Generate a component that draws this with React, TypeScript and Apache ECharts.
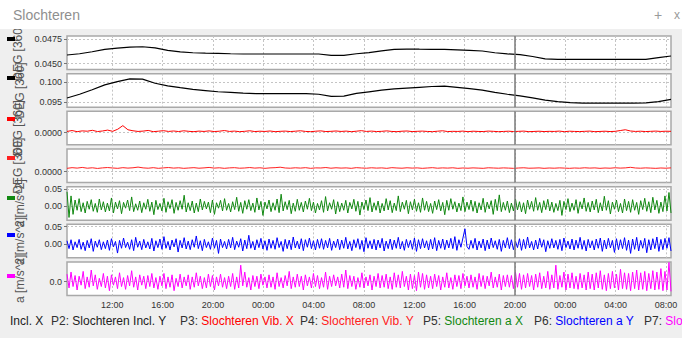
import React, { useEffect, useRef } from 'react';
import * as echarts from 'echarts';

// Time axis (hours from day-1 00:00)
const HOUR_START = 8.4;
const HOUR_END = 56.4;
const TIME_TICKS = [12, 16, 20, 24, 28, 32, 36, 40, 44, 48, 52, 56];
const CURSOR_HOUR = 44;

// P1: Slochteren Incl. X  (hourly)
const inclX = [
  0.04587, 0.04600, 0.04620, 0.04645, 0.04658, 0.04668, 0.04671, 0.04660, 0.04635, 0.04618,
  0.04610, 0.04606, 0.04604, 0.04600, 0.04597, 0.04597, 0.04597, 0.04597, 0.04597, 0.04597,
  0.04597, 0.04584, 0.04584, 0.04600, 0.04612, 0.04630, 0.04645, 0.04648, 0.04646, 0.04645,
  0.04645, 0.04640, 0.04635, 0.04628, 0.04610, 0.04598, 0.04590, 0.04572, 0.04548, 0.04543,
  0.04543, 0.04543, 0.04543, 0.04543, 0.04543, 0.04543, 0.04543, 0.04560, 0.04577,
];

// P2: Slochteren Incl. Y  (hourly)
const inclY = [
  0.09608, 0.09700, 0.09810, 0.09930, 0.10010, 0.10075, 0.10070, 0.09970, 0.09905, 0.09860,
  0.09818, 0.09790, 0.09762, 0.09745, 0.09728, 0.09718, 0.09718, 0.09718, 0.09718, 0.09718,
  0.09700, 0.09650, 0.09655, 0.09720, 0.09760, 0.09800, 0.09830, 0.09850, 0.09870, 0.09890,
  0.09900, 0.09870, 0.09840, 0.09800, 0.09745, 0.09700, 0.09660, 0.09610, 0.09555, 0.09520,
  0.09495, 0.09483, 0.09483, 0.09483, 0.09483, 0.09483, 0.09490, 0.09520, 0.09575,
];

// P3: Slochteren Vib. X
const vibX = [
  0.00010, 0.00018, 0.00008, 0.00015, 0.00012, 0.00020, 0.00009, 0.00014, 0.00022, 0.00011, 0.00030, 0.00062, 0.00025, 0.00016, 0.00010, 0.00013, 0.00019, 0.00008, 0.00012, 0.00017,
  0.00010, 0.00014, 0.00009, 0.00016, 0.00011, 0.00008, 0.00013, 0.00010, 0.00015, 0.00009, 0.00012, 0.00018, 0.00010, 0.00013, 0.00008, 0.00011, 0.00016, 0.00009, 0.00012, 0.00010,
  0.00014, 0.00008, 0.00011, 0.00013, 0.00009, 0.00012, 0.00016, 0.00010, 0.00008, 0.00012, 0.00015, 0.00009, 0.00011, 0.00014, 0.00010, 0.00013, 0.00008, 0.00012, 0.00017, 0.00010,
  0.00013, 0.00009, 0.00011, 0.00015, 0.00010, 0.00008, 0.00012, 0.00014, 0.00009, 0.00011, 0.00013, 0.00010, 0.00008, 0.00012, 0.00016, 0.00009, 0.00011, 0.00010, 0.00013, 0.00008,
  0.00012, 0.00010, 0.00009, 0.00013, 0.00011, 0.00008, 0.00010, 0.00012, 0.00009, 0.00011, 0.00013, 0.00008, 0.00010, 0.00012, 0.00009, 0.00011, 0.00010, 0.00013, 0.00008, 0.00012,
  0.00010, 0.00009, 0.00011, 0.00013, 0.00008, 0.00010, 0.00012, 0.00009, 0.00011, 0.00018, 0.00025, 0.00014, 0.00010, 0.00012, 0.00009, 0.00011, 0.00013, 0.00010, 0.00012, 0.00011,
];

// P4: Slochteren Vib. Y
const vibY = [
  0.00030, 0.00036, 0.00032, 0.00038, 0.00031, 0.00035, 0.00029, 0.00034, 0.00037, 0.00033, 0.00030, 0.00036, 0.00032, 0.00035, 0.00041, 0.00034, 0.00031, 0.00036, 0.00030, 0.00034,
  0.00037, 0.00032, 0.00035, 0.00030, 0.00033, 0.00036, 0.00031, 0.00034, 0.00038, 0.00032, 0.00035, 0.00030, 0.00034, 0.00036, 0.00031, 0.00033, 0.00037, 0.00032, 0.00035, 0.00030,
  0.00034, 0.00036, 0.00040, 0.00033, 0.00031, 0.00035, 0.00032, 0.00036, 0.00030, 0.00034, 0.00033, 0.00037, 0.00031, 0.00035, 0.00032, 0.00034, 0.00030, 0.00036, 0.00033, 0.00031,
  0.00035, 0.00032, 0.00034, 0.00030, 0.00036, 0.00033, 0.00031, 0.00035, 0.00032, 0.00034, 0.00030, 0.00033, 0.00036, 0.00031, 0.00034, 0.00032, 0.00035, 0.00030, 0.00033, 0.00031,
  0.00034, 0.00032, 0.00030, 0.00035, 0.00033, 0.00031, 0.00034, 0.00032, 0.00030, 0.00033, 0.00035, 0.00031, 0.00032, 0.00034, 0.00030, 0.00033, 0.00031, 0.00034, 0.00032, 0.00030,
  0.00033, 0.00031, 0.00035, 0.00032, 0.00034, 0.00030, 0.00033, 0.00031, 0.00035, 0.00032, 0.00034, 0.00039, 0.00033, 0.00031, 0.00034, 0.00032, 0.00030, 0.00033, 0.00031, 0.00034,
];

// P5: Slochteren a X
const accX = [
  0.042, -0.033, 0.030, -0.024, 0.018, -0.012, 0.022, -0.016, 0.010, -0.020, 0.014, -0.009, 0.019, -0.015, 0.008, -0.018, 0.021, -0.011, 0.013, -0.017,
  0.009, -0.014, 0.024, -0.020, 0.012, -0.008, 0.016, -0.022, 0.011, -0.006, 0.018, -0.013, 0.027, -0.016, 0.007, -0.012, 0.015, -0.019, 0.010, -0.009,
  0.020, -0.015, 0.012, -0.025, 0.017, -0.010, 0.008, -0.014, 0.023, -0.018, 0.013, -0.007, 0.019, -0.021, 0.011, -0.012, 0.016, -0.009, 0.032, -0.017,
  0.010, -0.013, 0.015, -0.020, 0.009, -0.016, 0.021, -0.011, 0.014, -0.008, 0.012, -0.019, 0.018, -0.024, 0.010, -0.006, 0.017, -0.014, 0.022, -0.012,
  0.008, -0.017, 0.013, -0.010, 0.026, -0.015, 0.011, -0.021, 0.016, -0.009, 0.019, -0.013, 0.009, -0.018, 0.024, -0.011, 0.014, -0.027, 0.012, -0.008,
  0.018, -0.016, 0.010, -0.012, 0.021, -0.019, 0.035, -0.014, 0.013, -0.010, 0.017, -0.022, 0.009, -0.015, 0.020, -0.012, 0.011, -0.017, 0.015, -0.009,
  0.023, -0.013, 0.012, -0.020, 0.008, -0.011, 0.016, -0.018, 0.028, -0.014, 0.010, -0.009, 0.019, -0.023, 0.013, -0.016, 0.009, -0.012, 0.017, -0.020,
  0.011, -0.008, 0.020, -0.015, 0.014, -0.026, 0.012, -0.010, 0.018, -0.013, 0.025, -0.017, 0.010, -0.012, 0.015, -0.020, 0.008, -0.014, 0.022, -0.011,
  0.016, -0.019, 0.009, -0.013, 0.030, -0.016, 0.012, -0.009, 0.017, -0.022, 0.013, -0.011, 0.020, -0.015, 0.010, -0.018, 0.024, -0.012, 0.014, -0.016,
  0.008, -0.021, 0.015, -0.010, 0.019, -0.014, 0.011, -0.025, 0.017, -0.012, 0.022, -0.009, 0.013, -0.017, 0.009, -0.013, 0.027, -0.016, 0.012, -0.010,
  0.018, -0.015, 0.014, -0.020, 0.010, -0.011, 0.023, -0.018, 0.012, -0.008, 0.016, -0.024, 0.020, -0.013, 0.033, -0.016, 0.011, -0.012, 0.015, -0.019,
  0.009, -0.014, 0.021, -0.011, 0.013, -0.017, 0.010, -0.022, 0.018, -0.009, 0.014, -0.015, 0.025, -0.012, 0.011, -0.019, 0.016, -0.010, 0.020, -0.014,
  0.012, -0.018, 0.008, -0.013, 0.017, -0.027, 0.014, -0.010, 0.022, -0.016, 0.009, -0.012, 0.019, -0.021, 0.013, -0.008, 0.024, -0.015, 0.011, -0.017,
  0.015, -0.011, 0.020, -0.019, 0.010, -0.014, 0.029, -0.012, 0.016, -0.023, 0.012, -0.009, 0.018, -0.016, 0.008, -0.020, 0.021, -0.013, 0.014, -0.018,
  0.019, -0.012, 0.011, -0.024, 0.016, -0.010, 0.023, -0.015, 0.013, -0.019, 0.026, -0.011, 0.017, -0.021, 0.012, -0.016, 0.030, -0.014, 0.040, -0.020,
];

// P6: Slochteren a Y
const accY = [
  0.009, -0.014, 0.012, -0.018, 0.006, -0.011, 0.013, -0.016, 0.005, -0.020, 0.010, -0.012, 0.015, -0.022, 0.008, -0.010, 0.012, -0.017, 0.006, -0.014,
  0.011, -0.019, 0.015, -0.009, 0.007, -0.027, 0.010, -0.013, 0.017, -0.011, 0.005, -0.016, 0.012, -0.020, 0.019, -0.010, 0.008, -0.017, 0.013, -0.012,
  0.006, -0.015, 0.016, -0.021, 0.009, -0.011, 0.014, -0.016, 0.021, -0.013, 0.007, -0.018, 0.011, -0.009, 0.015, -0.024, 0.010, -0.012, 0.018, -0.015,
  0.008, -0.017, 0.012, -0.010, 0.023, -0.014, 0.009, -0.020, 0.013, -0.011, 0.006, -0.016, 0.017, -0.013, 0.010, -0.028, 0.014, -0.011, 0.007, -0.015,
  0.013, -0.012, 0.019, -0.017, 0.008, -0.010, 0.015, -0.021, 0.011, -0.014, 0.025, -0.013, 0.007, -0.018, 0.012, -0.011, 0.016, -0.015, 0.009, -0.019,
  0.014, -0.013, 0.010, -0.016, 0.018, -0.011, 0.007, -0.022, 0.013, -0.014, 0.011, -0.017, 0.020, -0.012, 0.008, -0.015, 0.015, -0.020, 0.012, -0.010,
  0.017, -0.014, 0.009, -0.018, 0.013, -0.013, 0.015, -0.016, 0.010, -0.012, 0.016, -0.019, 0.008, -0.011, 0.014, -0.017, 0.011, -0.013, 0.019, -0.015,
  0.007, -0.020, 0.012, -0.011, 0.015, -0.016, 0.010, -0.023, 0.018, -0.013, 0.009, -0.015, 0.013, -0.018, 0.011, -0.012, 0.016, -0.021, 0.008, -0.014,
  0.014, -0.017, 0.011, -0.013, 0.019, -0.015, 0.007, -0.019, 0.013, -0.011, 0.010, -0.016, 0.017, -0.022, 0.012, -0.014, 0.015, -0.012, 0.009, -0.018,
  0.013, -0.015, 0.018, -0.020, 0.010, -0.013, 0.014, -0.017, 0.011, -0.012, 0.016, -0.014, 0.021, -0.019, 0.012, -0.010, 0.017, 0.044, -0.008, -0.016,
  0.010, -0.013, 0.016, -0.018, 0.008, -0.012, 0.014, -0.020, 0.011, -0.015, 0.017, -0.011, 0.009, -0.016, 0.013, -0.022, 0.010, -0.012, 0.018, -0.014,
  0.012, -0.017, 0.008, -0.011, 0.015, -0.019, 0.013, -0.014, 0.020, -0.012, 0.007, -0.018, 0.011, -0.015, 0.016, -0.010, 0.012, -0.023, 0.009, -0.013,
  0.015, -0.012, 0.010, -0.016, 0.013, -0.020, 0.017, -0.011, 0.008, -0.015, 0.014, -0.018, 0.011, -0.013, 0.019, -0.016, 0.010, -0.021, 0.013, -0.012,
  0.009, -0.018, 0.014, -0.013, 0.017, -0.022, 0.011, -0.015, 0.016, -0.012, 0.010, -0.025, 0.015, -0.017, 0.012, -0.014, 0.018, -0.019, 0.011, -0.028,
  0.014, -0.016, 0.019, -0.021, 0.010, -0.013, 0.016, -0.026, 0.012, -0.018, 0.015, -0.014, 0.020, -0.022, 0.013, -0.017, 0.016, -0.013, 0.018, -0.021,
];

// P7: Slochteren a Z
const accZ = [
  0.055, -0.045, 0.070, -0.035, 0.045, -0.060, 0.040, -0.025, 0.075, -0.050, 0.035, -0.040, 0.085, -0.030, 0.050, -0.055, 0.025, -0.035, 0.060, -0.045,
  0.040, -0.065, 0.050, -0.025, 0.035, -0.050, 0.065, -0.035, 0.030, -0.055, 0.045, -0.030, 0.080, -0.040, 0.035, -0.060, 0.050, -0.025, 0.040, -0.050,
  0.045, -0.035, 0.060, -0.045, 0.030, -0.055, 0.040, -0.030, 0.060, -0.050, 0.035, -0.040, 0.050, -0.065, 0.025, -0.035, 0.055, -0.045, 0.035, -0.030,
  0.050, -0.055, 0.035, -0.040, 0.065, -0.030, 0.040, -0.050, 0.030, -0.045, 0.055, -0.035, 0.045, -0.060, 0.035, -0.030, 0.055, -0.040, 0.030, -0.050,
  0.040, -0.035, 0.060, -0.055, 0.035, -0.045, 0.120, -0.030, 0.070, -0.040, 0.030, -0.060, 0.045, -0.035, 0.040, -0.050, 0.055, -0.025, 0.035, -0.045,
  0.050, -0.040, 0.035, -0.055, 0.065, -0.035, 0.030, -0.045, 0.045, -0.030, 0.075, -0.050, 0.035, -0.040, 0.055, -0.035, 0.040, -0.060, 0.050, -0.030,
  0.035, -0.045, 0.060, -0.035, 0.045, -0.050, 0.030, -0.040, 0.070, -0.055, 0.040, -0.035, 0.050, -0.030, 0.035, -0.045, 0.055, -0.040, 0.085, -0.050,
  0.045, -0.035, 0.040, -0.055, 0.030, -0.040, 0.065, -0.045, 0.035, -0.030, 0.050, -0.060, 0.040, -0.035, 0.060, -0.045, 0.045, -0.040, 0.055, -0.050,
  0.035, -0.055, 0.065, -0.040, 0.050, -0.045, 0.075, -0.035, 0.040, -0.060, 0.055, -0.050, 0.045, -0.065, 0.070, -0.040, 0.060, -0.055, 0.050, -0.045,
  0.040, -0.050, 0.055, -0.035, 0.045, -0.060, 0.035, -0.040, 0.065, -0.045, 0.030, -0.055, 0.050, -0.035, 0.045, -0.050, 0.060, -0.030, 0.040, -0.045,
  0.050, -0.040, 0.035, -0.055, 0.060, -0.035, 0.045, -0.050, 0.040, -0.030, 0.070, -0.045, 0.035, -0.040, 0.055, -0.060, 0.045, -0.035, 0.050, -0.040,
  0.045, -0.050, 0.070, -0.040, 0.060, -0.055, 0.050, -0.045, 0.060, -0.035, 0.045, -0.060, 0.055, -0.040, 0.065, -0.050, 0.040, -0.045, 0.075, -0.055,
  0.050, -0.045, 0.120, -0.055, 0.045, -0.040, 0.070, -0.060, 0.055, -0.045, 0.065, -0.050, 0.040, -0.055, 0.060, -0.045, 0.050, -0.060, 0.070, -0.050,
  0.055, -0.060, 0.065, -0.045, 0.080, -0.055, 0.050, -0.065, 0.060, -0.050, 0.075, -0.045, 0.055, -0.060, 0.090, -0.050, 0.065, -0.055, 0.060, -0.065,
  0.070, -0.050, 0.085, -0.060, 0.065, -0.055, 0.075, -0.065, 0.060, -0.050, 0.080, -0.060, 0.070, -0.055, 0.095, -0.065, 0.075, -0.060, 0.140, -0.070,
];

const SERIES_NAMES = [
  'P1: Slochteren Incl. X',
  'P2: Slochteren Incl. Y',
  'P3: Slochteren Vib. X',
  'P4: Slochteren Vib. Y',
  'P5: Slochteren a X',
  'P6: Slochteren a Y',
  'P7: Slochteren a Z',
];
const SERIES_COLORS = ['#000000', '#000000', '#ff0000', '#ff2020', '#118811', '#0000ff', '#ff00ff'];
const AXIS_NAMES = ['DEG [360]', 'DEG [360]', 'DEG [360]', 'DEG [360]', 'a [m/s^2]', 'a [m/s^2]', 'a [m/s^2]'];
const Y_MIN = [0.04439, 0.09385, -0.0011, -0.00097, -0.041, -0.041, -0.1];
const Y_MAX = [0.04781, 0.10203, 0.0019, 0.00203, 0.057, 0.057, 0.143];
const Y_TICKS = [[0.045, 0.0475], [0.095, 0.1], [0], [0], [0, 0.05], [0, 0.05], [0]];
const Y_DECIMALS = [4, 3, 4, 4, 2, 2, 1];
const SERIES_DATA = [inclX, inclY, vibX, vibY, accX, accY, accZ];

// bottom legend (scrolled: first entry partially hidden)
const LEGEND_PREFIX = ['', 'P2: ', 'P3: ', 'P4: ', 'P5: ', 'P6: ', 'P7: '];
const LEGEND_LABEL = ['Incl. X', 'Slochteren Incl. Y', 'Slochteren Vib. X', 'Slochteren Vib. Y', 'Slochteren a X', 'Slochteren a Y', 'Slochteren a Z'];
const LEGEND_X = [10, 51, 180, 300, 423, 534, 644];
const MARKER_Y = [37, 76, 117, 156, 196, 233, 274];

const FONT = 'Liberation Sans, Arial, sans-serif';

function toXY(values: number[]): number[][] {
  const n = values.length;
  return values.map((v, i) => [HOUR_START + (i * (HOUR_END - HOUR_START)) / (n - 1), v]);
}

export default function App() {
  const ref = useRef<HTMLDivElement>(null);
  useEffect(() => {
    if (!ref.current) return;
    const chart = echarts.init(ref.current, undefined, { renderer: 'svg' });
    const PANEL_TOP = 36;
    const PANEL_STEP = 37.67;
    const PANEL_H = 33.5;
    const n = SERIES_DATA.length;

    const grid: any[] = [];
    const xAxis: any[] = [];
    const yAxis: any[] = [];
    const series: any[] = [];
    for (let i = 0; i < n; i++) {
      const last = i === n - 1;
      grid.push({
        left: 67,
        right: 11,
        top: PANEL_TOP + i * PANEL_STEP,
        height: PANEL_H,
        show: true,
        backgroundColor: '#ffffff',
        borderColor: '#a9a9a9',
        borderWidth: 1.5,
      });
      xAxis.push({
        type: 'value',
        gridIndex: i,
        min: HOUR_START,
        max: HOUR_END,
        axisLine: { show: false },
        axisTick: { show: false, customValues: TIME_TICKS },
        axisLabel: {
          show: last,
          customValues: TIME_TICKS,
          fontFamily: FONT,
          fontSize: 9,
          color: '#333',
          margin: 5,
          formatter: (v: number) => String(Math.round(v) % 24).padStart(2, '0') + ':00',
        },
        splitLine: { show: true, lineStyle: { color: '#c4c4c4', type: [2, 2], width: 1 } },
      });
      const dec = Y_DECIMALS[i];
      yAxis.push({
        type: 'value',
        gridIndex: i,
        min: Y_MIN[i],
        max: Y_MAX[i],
        name: AXIS_NAMES[i],
        nameLocation: 'middle',
        nameRotate: 90,
        nameGap: 41,
        nameTextStyle: { fontFamily: FONT, fontSize: 12, color: '#555' },
        axisLine: { show: false },
        axisTick: { show: true, length: 3, customValues: Y_TICKS[i], lineStyle: { color: '#777' } },
        axisLabel: {
          customValues: Y_TICKS[i],
          fontFamily: FONT,
          fontSize: 9,
          color: '#333',
          margin: 5,
          formatter: (v: number) => Math.abs(v).toFixed(dec),
        },
        splitLine: { show: true, lineStyle: { color: '#c4c4c4', type: [2, 2], width: 1 } },
      });
      series.push({
        type: 'line',
        name: SERIES_NAMES[i],
        xAxisIndex: i,
        yAxisIndex: i,
        data: toXY(SERIES_DATA[i]),
        showSymbol: false,
        symbol: 'none',
        lineStyle: { color: SERIES_COLORS[i], width: i < 2 ? 1.2 : 1 },
        itemStyle: { color: SERIES_COLORS[i] },
        markLine: {
          silent: true,
          symbol: 'none',
          label: { show: false },
          lineStyle: { color: '#7a7a7a', width: 1.5, type: 'solid' },
          data: [{ xAxis: CURSOR_HOUR }],
        },
        z: 3,
      });
    }

    const graphic: any[] = [
      { type: 'rect', shape: { x: 0, y: 0, width: 682, height: 29 }, style: { fill: '#ffffff' }, z: 100 },
      {
        type: 'text', x: 13, y: 15, z: 101,
        style: { text: 'Slochteren', fill: '#8f8f8f', font: `14px ${FONT}`, textVerticalAlign: 'middle' },
      },
      { type: 'text', x: 658, y: 15, z: 101, style: { text: '+', fill: '#9a9a9a', font: `14px ${FONT}`, textAlign: 'center', textVerticalAlign: 'middle' } },
      { type: 'text', x: 677, y: 15, z: 101, style: { text: 'x', fill: '#9a9a9a', font: `12px ${FONT}`, textAlign: 'center', textVerticalAlign: 'middle' } },
    ];
    for (let i = 0; i < n; i++) {
      graphic.push({
        type: 'rect', z: 50,
        shape: { x: 7, y: MARKER_Y[i], width: 8, height: 4 },
        style: { fill: SERIES_COLORS[i] },
      });
      graphic.push({
        type: 'text', z: 50, x: LEGEND_X[i], y: 321,
        style: {
          text: (LEGEND_PREFIX[i] ? `{k|${LEGEND_PREFIX[i]}}` : '') + `{c|${LEGEND_LABEL[i]}}`,
          font: `12px ${FONT}`,
          textVerticalAlign: 'middle',
          rich: {
            k: { fill: '#333', font: `12px ${FONT}` },
            c: { fill: i < 2 ? '#222' : SERIES_COLORS[i], font: `12px ${FONT}` },
          },
        },
      });
    }

    chart.setOption({
      animation: false,
      backgroundColor: '#efefef',
      grid,
      xAxis,
      yAxis,
      series,
      graphic,
    });
    return () => chart.dispose();
  }, []);

  return (
    <div style={{ position: 'fixed', left: 0, top: 0, width: 682, height: 338, background: '#efefef' }}>
      <div ref={ref} style={{ width: 682, height: 338 }} />
    </div>
  );
}
